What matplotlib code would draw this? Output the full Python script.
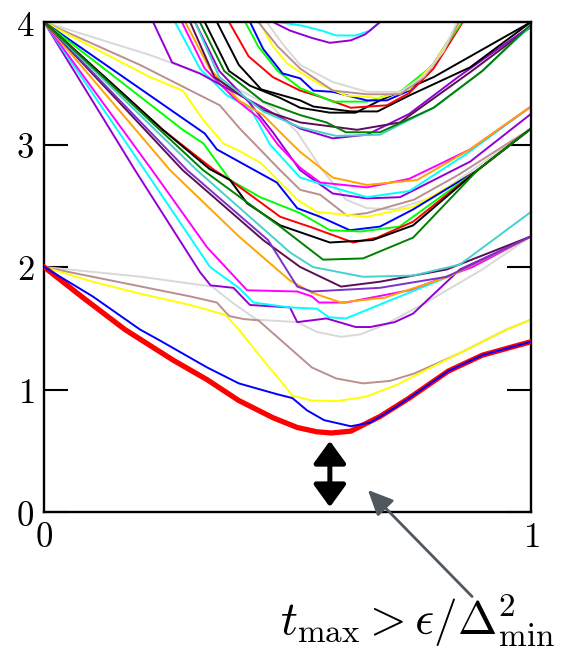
import matplotlib
matplotlib.use("Agg")
import matplotlib.pyplot as plt

plt.rcParams["mathtext.fontset"] = "cm"

# ---------------- spectrum data: (s, E) samples for every level ----------------
# levels starting from E = 2
ground_x = [0, 0.08, 0.166, 0.265, 0.335, 0.40, 0.47, 0.52, 0.56, 0.59, 0.63, 0.69, 0.75, 0.83, 0.9, 1.0]
ground_y = [2, 1.75, 1.49, 1.24, 1.08, 0.91, 0.77, 0.69, 0.655, 0.645, 0.66, 0.78, 0.93, 1.15, 1.28, 1.39]
blue_lo_x = [0, 0.1, 0.197, 0.238, 0.335, 0.40, 0.48, 0.51, 0.54, 0.575, 0.63, 0.67, 0.72, 0.75, 0.83, 0.9, 1.0]
blue_lo_y = [2, 1.76, 1.49, 1.40, 1.18, 1.05, 0.96, 0.93, 0.83, 0.75, 0.70, 0.73, 0.85, 0.93, 1.15, 1.28, 1.39]
yellow_lo_x = [0, 0.1, 0.2, 0.3, 0.372, 0.40, 0.45, 0.49, 0.51, 0.55, 0.6, 0.66, 0.72, 0.79, 0.85, 0.95, 1.0]
yellow_lo_y = [2, 1.88, 1.78, 1.69, 1.61, 1.49, 1.24, 1.05, 0.95, 0.91, 0.905, 0.94, 1.03, 1.17, 1.29, 1.49, 1.57]
brown_lo_x = [0, 0.1, 0.2, 0.3, 0.355, 0.38, 0.41, 0.44, 0.49, 0.55, 0.6, 0.655, 0.71, 0.76, 0.85, 0.95, 1.0]
brown_lo_y = [2, 1.92, 1.84, 1.76, 1.71, 1.60, 1.575, 1.565, 1.39, 1.18, 1.09, 1.05, 1.07, 1.13, 1.29, 1.49, 1.57]
gray_lo_x = [0, 0.1, 0.2, 0.345, 0.39, 0.437, 0.52, 0.56, 0.61, 0.65, 0.70, 0.78, 0.9, 1.0]
gray_lo_y = [2, 1.96, 1.92, 1.84, 1.70, 1.57, 1.55, 1.47, 1.43, 1.45, 1.53, 1.70, 1.98, 2.25]

# levels starting from E = 4, falling into the band that ends near E = 2.25-2.45
violet_a_x = [0, 0.187, 0.32, 0.342, 0.389, 0.423, 0.505, 0.52, 0.58, 0.64, 0.67, 0.72, 0.758, 0.854, 1.0]
violet_a_y = [4, 2.79, 1.96, 1.85, 1.83, 1.69, 1.67, 1.55, 1.58, 1.51, 1.51, 1.55, 1.62, 1.98, 2.25]
cyan_a_x = [0, 0.207, 0.341, 0.40, 0.43, 0.505, 0.56, 0.585, 0.62, 0.70, 0.83, 1.0]
cyan_a_y = [4, 2.79, 2.0, 1.83, 1.71, 1.67, 1.66, 1.59, 1.58, 1.71, 1.92, 2.25]
magenta_a_x = [0, 0.222, 0.335, 0.417, 0.52, 0.55, 0.565, 0.62, 0.75, 0.88, 1.0]
magenta_a_y = [4, 2.79, 2.16, 1.81, 1.80, 1.76, 1.71, 1.71, 1.81, 2.0, 2.25]
orange_a_x = [0, 0.259, 0.40, 0.505, 0.55, 0.61, 0.70, 0.83, 1.0]
orange_a_y = [4, 2.79, 2.25, 1.89, 1.79, 1.71, 1.75, 1.92, 2.25]
plum_a_x = [0, 0.285, 0.45, 0.526, 0.61, 0.69, 0.827, 1.0]
plum_a_y = [4, 2.79, 2.22, 2.0, 1.84, 1.88, 1.98, 2.25]
iris_a_x = [0, 0.294, 0.46, 0.52, 0.55, 0.69, 0.827, 1.0]
iris_a_y = [4, 2.79, 2.22, 1.84, 1.80, 1.83, 1.92, 2.25]
teal_a_x = [0, 0.314, 0.505, 0.552, 0.655, 0.758, 0.854, 1.0]
teal_a_y = [4, 2.79, 2.12, 2.0, 1.92, 1.93, 2.02, 2.45]

# levels starting from E = 4, ending at E = 3.13
green_b_x = [0, 0.327, 0.485, 0.573, 0.655, 0.758, 0.89, 1.0]
green_b_y = [4, 2.79, 2.33, 2.06, 2.07, 2.24, 2.79, 3.13]
black_b_x = [0, 0.244, 0.34, 0.382, 0.417, 0.485, 0.587, 0.675, 0.758, 0.89, 1.0]
black_b_y = [4, 3.12, 2.80, 2.71, 2.52, 2.34, 2.20, 2.22, 2.34, 2.79, 3.13]
red_b_x = [0, 0.244, 0.35, 0.382, 0.485, 0.552, 0.635, 0.684, 0.758, 0.89, 1.0]
red_b_y = [4, 3.12, 2.79, 2.71, 2.41, 2.32, 2.20, 2.24, 2.37, 2.79, 3.13]
lime_b_x = [0, 0.285, 0.327, 0.382, 0.444, 0.526, 0.587, 0.65, 0.73, 0.89, 1.0]
lime_b_y = [4, 3.12, 3.01, 2.71, 2.57, 2.44, 2.30, 2.29, 2.33, 2.79, 3.13]
blue_b_x = [0, 0.33, 0.355, 0.396, 0.478, 0.52, 0.567, 0.628, 0.69, 0.758, 0.89, 1.0]
blue_b_y = [4, 3.09, 2.96, 2.87, 2.69, 2.48, 2.41, 2.30, 2.33, 2.47, 2.79, 3.13]
yellow_b_x = [0, 0.218, 0.285, 0.327, 0.368, 0.40, 0.445, 0.48, 0.52, 0.56, 0.663, 0.758, 0.89, 1.0]
yellow_b_y = [4, 3.55, 3.44, 3.20, 3.01, 2.95, 2.85, 2.71, 2.55, 2.45, 2.41, 2.49, 2.79, 3.13]
brown_b_x = [0, 0.197, 0.361, 0.402, 0.429, 0.485, 0.526, 0.567, 0.622, 0.663, 0.76, 0.85, 1.0]
brown_b_y = [4, 3.65, 3.32, 3.13, 3.02, 2.79, 2.63, 2.59, 2.42, 2.44, 2.55, 2.75, 3.13]
gray_b_x = [0, 0.218, 0.355, 0.409, 0.47, 0.52, 0.57, 0.62, 0.663, 0.72, 0.80, 0.89, 1.0]
gray_b_y = [4, 3.73, 3.53, 3.43, 3.30, 3.10, 2.80, 2.55, 2.48, 2.47, 2.57, 2.82, 3.13]

# levels entering from above, ending at E = 3.31
cyan_c_x = [0.269, 0.32, 0.376, 0.423, 0.464, 0.526, 0.593, 0.663, 0.75, 0.87, 1.0]
cyan_c_y = [4, 3.62, 3.40, 3.30, 3.0, 2.73, 2.65, 2.57, 2.62, 2.93, 3.31]
magenta_c_x = [0.283, 0.33, 0.39, 0.44, 0.48, 0.526, 0.567, 0.663, 0.75, 0.875, 1.0]
magenta_c_y = [4, 3.62, 3.38, 3.22, 3.0, 2.81, 2.69, 2.65, 2.72, 2.96, 3.31]
orange_c_x = [0.29, 0.34, 0.40, 0.45, 0.49, 0.526, 0.593, 0.663, 0.766, 0.875, 1.0]
orange_c_y = [4, 3.62, 3.36, 3.24, 3.08, 2.94, 2.73, 2.67, 2.71, 2.96, 3.31]
violet_c_x = [0.31, 0.36, 0.42, 0.47, 0.526, 0.593, 0.663, 0.731, 0.875, 1.0]
violet_c_y = [4, 3.6, 3.35, 3.1, 2.79, 2.60, 2.56, 2.57, 2.86, 3.25]

# levels entering from above with a shallow minimum near E = 3.3
gray_d_x = [0.457, 0.49, 0.526, 0.593, 0.663, 0.731, 0.78, 0.82, 0.848]
gray_d_y = [4.0, 3.82, 3.65, 3.51, 3.43, 3.43, 3.56, 3.76, 4.0]
brown_d_x = [0.44, 0.48, 0.526, 0.593, 0.663, 0.731, 0.78, 0.82, 0.852]
brown_d_y = [4.0, 3.80, 3.62, 3.44, 3.41, 3.41, 3.55, 3.76, 4.0]
yellow_d_x = [0.443, 0.47, 0.50, 0.526, 0.567, 0.62, 0.69, 0.75, 0.80, 0.855]
yellow_d_y = [4.0, 3.80, 3.66, 3.59, 3.49, 3.40, 3.38, 3.45, 3.66, 4.0]
blue_d_x = [0.423, 0.45, 0.49, 0.526, 0.553, 0.593, 0.663, 0.704, 0.75, 0.80, 0.855]
blue_d_y = [4.0, 3.78, 3.58, 3.54, 3.44, 3.43, 3.36, 3.36, 3.44, 3.66, 4.0]
lime_d_x = [0.413, 0.44, 0.48, 0.526, 0.593, 0.663, 0.731, 0.80, 0.858]
lime_d_y = [4.0, 3.80, 3.60, 3.46, 3.35, 3.35, 3.43, 3.65, 4.0]
red_d_x = [0.38, 0.42, 0.47, 0.526, 0.567, 0.63, 0.704, 0.75, 0.80, 0.86]
red_d_y = [4.0, 3.72, 3.55, 3.44, 3.39, 3.30, 3.32, 3.42, 3.62, 4.0]
black_d_x = [0.355, 0.40, 0.446, 0.526, 0.553, 0.63, 0.685, 0.75, 0.875, 1.0]
black_d_y = [4.0, 3.65, 3.45, 3.36, 3.31, 3.27, 3.27, 3.40, 3.63, 4.0]
black_e_x = [0.33, 0.38, 0.423, 0.485, 0.526, 0.587, 0.64, 0.69, 0.80, 1.0]
black_e_y = [4.0, 3.60, 3.48, 3.38, 3.30, 3.26, 3.26, 3.36, 3.55, 4.0]
green_d_x = [0.32, 0.37, 0.45, 0.526, 0.58, 0.62, 0.69, 0.80, 0.90, 1.0]
green_d_y = [4.0, 3.60, 3.35, 3.24, 3.18, 3.10, 3.10, 3.30, 3.60, 3.98]
teal_d_x = [0.31, 0.36, 0.45, 0.526, 0.60, 0.69, 0.80, 0.90, 1.0]
teal_d_y = [4.0, 3.55, 3.27, 3.14, 3.07, 3.08, 3.30, 3.60, 3.97]
plum_d_x = [0.30, 0.35, 0.45, 0.526, 0.643, 0.731, 0.875, 1.0]
plum_d_y = [4.0, 3.55, 3.28, 3.18, 3.12, 3.18, 3.59, 3.96]
violet_d_x = [0.224, 0.263, 0.32, 0.38, 0.45, 0.526, 0.593, 0.663, 0.75, 0.85, 1.0]
violet_d_y = [4.0, 3.67, 3.58, 3.45, 3.30, 3.13, 3.05, 3.08, 3.25, 3.55, 3.97]

# two levels that only dip just below E = 4
cyan_e_x = [0.48, 0.53, 0.57, 0.60, 0.64, 0.67, 0.69]
cyan_e_y = [4.0, 3.97, 3.93, 3.89, 3.89, 3.93, 4.0]
violet_e_x = [0.47, 0.505, 0.55, 0.587, 0.63, 0.66, 0.69]
violet_e_y = [4.0, 3.93, 3.87, 3.83, 3.85, 3.90, 4.0]

# tick values
y_ticks = [0, 1, 2, 3, 4]
x_ticks = [0, 1]

# gap marker and annotation
gap_s = 0.587
gap_top, gap_bottom = 0.58, 0.04
label_text = r"$t_{\max} > \epsilon/\Delta^2_{\min}$"

# ---------------- colours ----------------
RED, BLUE, YELLOW = "#ff0000", "#0000ff", "#ffff00"
BROWN, GRAY = "#bc8f8f", "#d8d8d8"
LIME, GREEN, BLACK = "#00ff00", "#008000", "#000000"
TEAL, CYAN, MAGENTA, ORANGE = "#48d1cc", "#00ffff", "#ff00ff", "#ffa500"
VIOLET, PLUM, IRIS = "#9400d3", "#5c0f55", "#7a33c9"

levels = [
    (gray_lo_x, gray_lo_y, GRAY), (brown_lo_x, brown_lo_y, BROWN),
    (yellow_lo_x, yellow_lo_y, YELLOW),
    (violet_a_x, violet_a_y, VIOLET), (cyan_a_x, cyan_a_y, CYAN),
    (magenta_a_x, magenta_a_y, MAGENTA), (orange_a_x, orange_a_y, ORANGE),
    (plum_a_x, plum_a_y, PLUM), (iris_a_x, iris_a_y, IRIS),
    (teal_a_x, teal_a_y, TEAL),
    (gray_b_x, gray_b_y, GRAY), (brown_b_x, brown_b_y, BROWN),
    (yellow_b_x, yellow_b_y, YELLOW), (blue_b_x, blue_b_y, BLUE),
    (lime_b_x, lime_b_y, LIME), (red_b_x, red_b_y, RED),
    (black_b_x, black_b_y, BLACK), (green_b_x, green_b_y, GREEN),
    (violet_c_x, violet_c_y, VIOLET), (cyan_c_x, cyan_c_y, CYAN),
    (magenta_c_x, magenta_c_y, MAGENTA), (orange_c_x, orange_c_y, ORANGE),
    (violet_d_x, violet_d_y, VIOLET), (plum_d_x, plum_d_y, PLUM),
    (teal_d_x, teal_d_y, TEAL), (green_d_x, green_d_y, GREEN),
    (black_e_x, black_e_y, BLACK), (black_d_x, black_d_y, BLACK),
    (red_d_x, red_d_y, RED), (lime_d_x, lime_d_y, LIME),
    (blue_d_x, blue_d_y, BLUE), (yellow_d_x, yellow_d_y, YELLOW),
    (brown_d_x, brown_d_y, BROWN), (gray_d_x, gray_d_y, GRAY),
    (cyan_e_x, cyan_e_y, CYAN), (violet_e_x, violet_e_y, VIOLET),
]

fig = plt.figure(figsize=(5.63, 6.49), dpi=100)
ax = fig.add_axes([44 / 563, 1 - 512 / 649, 487 / 563, 490 / 649])

for xs, ys, col in levels:
    ax.plot(xs, ys, color=col, lw=1.4, solid_joinstyle="round",
            solid_capstyle="round", zorder=2)

# ground state (thick) with the first excited state drawn over it
ax.plot(ground_x, ground_y, color=RED, lw=3.8, solid_joinstyle="round", zorder=3)
ax.plot(blue_lo_x, blue_lo_y, color=BLUE, lw=1.4, solid_joinstyle="round", zorder=4)

ax.set_xlim(0, 1)
ax.set_ylim(0, 4)

for side in ax.spines.values():
    side.set_linewidth(1.7)

ax.set_yticks(y_ticks)
ax.set_yticklabels([f"${v}$" for v in y_ticks])
ax.set_xticks(x_ticks)
ax.set_xticklabels([f"${v}$" for v in x_ticks])
ax.tick_params(axis="y", direction="in", length=17, width=1.5, left=True, right=True,
               labelsize=25, pad=7)
ax.tick_params(axis="x", direction="in", length=0, labelsize=25, pad=6)

# minimum-gap marker
ax.annotate("", xy=(gap_s, gap_bottom), xytext=(gap_s, gap_top),
            arrowprops=dict(arrowstyle="<|-|>,head_length=0.62,head_width=0.45",
                            color="black", lw=3.6, mutation_scale=22,
                            shrinkA=0, shrinkB=0), zorder=5)

# runtime annotation with pointer
ax.annotate("", xy=(0.665, 0.18), xytext=(0.879, -0.69),
            arrowprops=dict(arrowstyle="-|>,head_length=0.7,head_width=0.32",
                            color="#50585f", lw=2.0, mutation_scale=22,
                            shrinkA=0, shrinkB=0),
            annotation_clip=False, zorder=5)
ax.text(0.768, -1.005, label_text, fontsize=34, ha="center", va="baseline",
        clip_on=False)

fig.savefig("out.png", dpi=100)
